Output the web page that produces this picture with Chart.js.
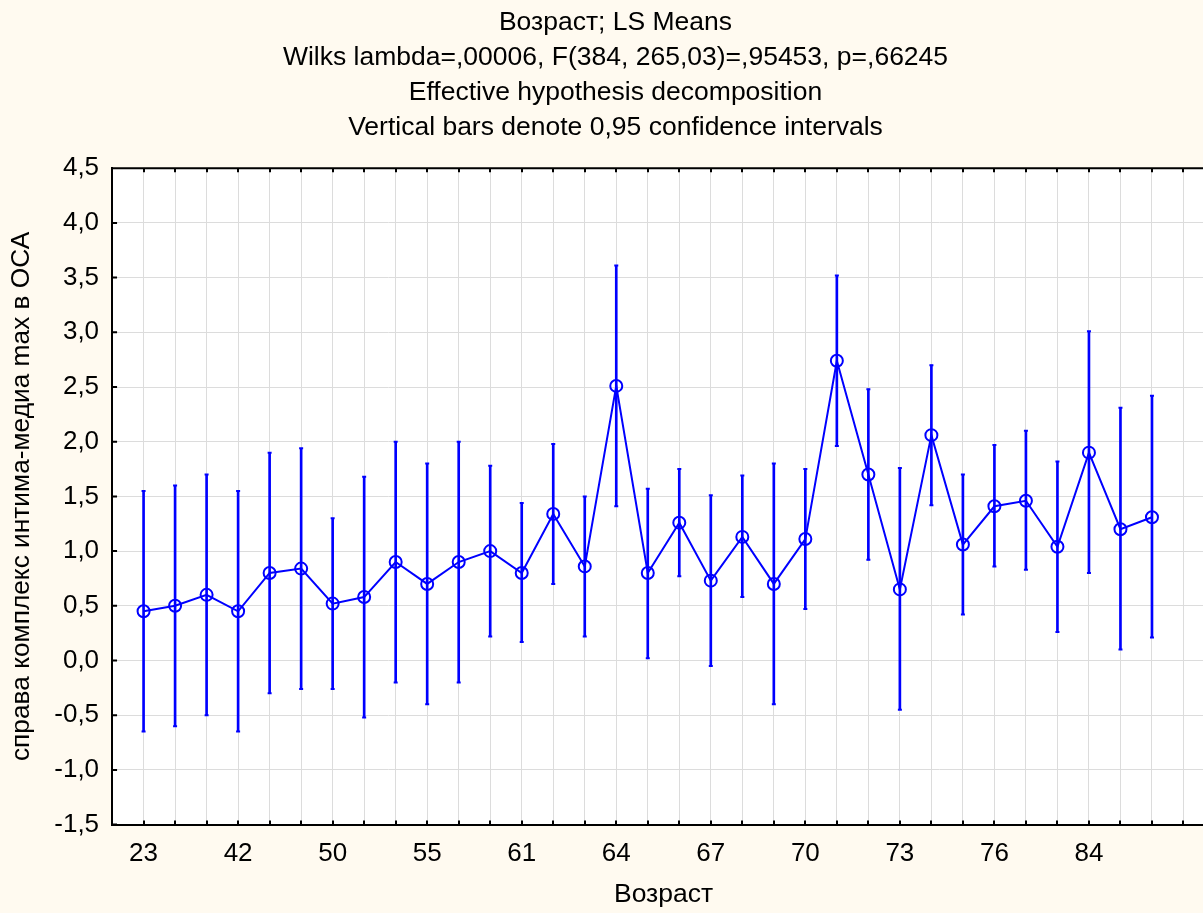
<!DOCTYPE html>
<html>
<head>
<meta charset="utf-8">
<title>Возраст; LS Means</title>
<script src="https://cdn.jsdelivr.net/npm/chart.js@4.4.1/dist/chart.umd.min.js"></script>
<style>
    html, body { margin: 0; padding: 0; overflow: hidden; background: #fffaf0; }
    #wrap { width: 1231px; height: 913px; }
</style>
</head>
<body>
<div id="wrap"><canvas id="chart" width="1231" height="913"></canvas></div>
<script>
// Age groups (x categories) - only every third one is labelled on the axis
const ages = [23, 35, 39, 42, 45, 47, 50, 52, 53, 55, 57, 59, 61, 62, 63, 64, 65,
    66, 67, 68, 69, 70, 71, 72, 73, 74, 75, 76, 78, 80, 84, 85, 87];

// LS means
const means = [0.45, 0.50, 0.60, 0.45, 0.80, 0.84, 0.52, 0.58, 0.90, 0.70, 0.90,
    1.00, 0.80, 1.34, 0.86, 2.51, 0.80, 1.26, 0.73, 1.13, 0.70, 1.11,
    2.74, 1.70, 0.65, 2.06, 1.06, 1.41, 1.46, 1.04, 1.90, 1.20, 1.31];

// 0,95 confidence interval bounds
const lower = [-0.65, -0.60, -0.50, -0.65, -0.30, -0.26, -0.26, -0.52, -0.20, -0.40, -0.20,
    0.22, 0.17, 0.70, 0.22, 1.41, 0.02, 0.77, -0.05, 0.58, -0.40, 0.47,
    1.96, 0.92, -0.45, 1.42, 0.42, 0.86, 0.83, 0.26, 0.80, 0.10, 0.21];
const upper = [1.55, 1.60, 1.70, 1.55, 1.90, 1.94, 1.30, 1.68, 2.00, 1.80, 2.00,
    1.78, 1.44, 1.98, 1.50, 3.61, 1.57, 1.75, 1.51, 1.69, 1.80, 1.75,
    3.52, 2.48, 1.76, 2.70, 1.70, 1.97, 2.10, 1.82, 3.01, 2.31, 2.42];

const titleLines = [
    'Возраст; LS Means',
    'Wilks lambda=,00006, F(384, 265,03)=,95453, p=,66245',
    'Effective hypothesis decomposition',
    'Vertical bars denote 0,95 confidence intervals'
];

const blue = '#0000ff';

Chart.defaults.font.family = '"Liberation Sans", Arial, sans-serif';
Chart.defaults.font.size = 26;
Chart.defaults.color = '#000';

// background, white plot area, top frame line and inward tick marks
const frame = {
    id: 'frame',
    beforeDraw(chart) {
        const { ctx, chartArea: a } = chart;
        ctx.save();
        ctx.fillStyle = '#fffaf0';
        ctx.fillRect(0, 0, chart.width, chart.height);
        ctx.fillStyle = '#ffffff';
        ctx.fillRect(a.left, a.top, a.right - a.left, a.bottom - a.top);
        ctx.restore();
    },
    afterDraw(chart) {
        const { ctx, chartArea: a, scales: { x, y } } = chart;
        ctx.save();
        ctx.strokeStyle = '#000';
        ctx.lineWidth = 2;
        ctx.beginPath();
        ctx.moveTo(a.left - 1, a.top);
        ctx.lineTo(a.right, a.top);
        x.ticks.forEach(t => {
            const px = Math.round(x.getPixelForValue(t.value));
            ctx.moveTo(px, a.bottom);
            ctx.lineTo(px, a.bottom - 4);
            ctx.moveTo(px, a.top);
            ctx.lineTo(px, a.top + 4);
        });
        y.ticks.forEach(t => {
            const py = y.getPixelForValue(t.value);
            ctx.moveTo(a.left, py);
            ctx.lineTo(a.left + 5, py);
        });
        ctx.stroke();
        ctx.restore();
    }
};

const ctx = document.getElementById('chart').getContext('2d');
const chart = new Chart(ctx, {
    type: 'line',
    data: {
        datasets: [
            {
                label: 'LS Means',
                data: means.map((v, i) => ({ x: i, y: v })),
                borderColor: blue,
                borderWidth: 2,
                tension: 0,
                pointStyle: 'circle',
                pointRadius: 6,
                pointBorderWidth: 2,
                pointBorderColor: blue,
                pointBackgroundColor: 'rgba(0,0,0,0)'
            },
            {
                label: 'upper cap',
                data: upper.map((v, i) => ({ x: i, y: v })),
                showLine: false,
                pointStyle: 'line',
                pointRadius: 2,
                pointBorderWidth: 2,
                pointBorderColor: blue
            },
            {
                label: 'lower cap',
                data: lower.map((v, i) => ({ x: i, y: v })),
                showLine: false,
                pointStyle: 'line',
                pointRadius: 2,
                pointBorderWidth: 2,
                pointBorderColor: blue
            },
            {
                type: 'bar',
                label: 'CI',
                data: lower.map((v, i) => ({ x: i, y: [v, upper[i]] })),
                backgroundColor: blue,
                borderWidth: 0,
                barThickness: 2,
                grouped: false
            }
        ]
    },
    options: {
        responsive: false,
        animation: false,
        layout: { padding: 0 },
        plugins: {
            legend: { display: false },
            tooltip: { enabled: false },
            title: {
                display: true,
                text: titleLines,
                color: '#000',
                font: { size: 26.5, weight: 'normal', lineHeight: 1.32 },
                padding: { top: 5.5, bottom: 22.8 }
            }
        },
        scales: {
            x: {
                type: 'linear',
                min: -1,
                max: 34,
                offset: false,
                grid: { color: '#dcdcdc', lineWidth: 1, drawTicks: false, offset: false },
                border: { color: '#000', width: 2 },
                ticks: {
                    stepSize: 1,
                    maxTicksLimit: 100,
                    autoSkip: false,
                    maxRotation: 0,
                    minRotation: 0,
                    padding: 14,
                    callback: v => (Number.isInteger(v) && v >= 0 && v % 3 === 0 && v < ages.length) ? String(ages[v]) : ''
                },
                title: {
                    display: true,
                    text: 'Возраст',
                    color: '#000',
                    font: { size: 26.5 },
                    padding: { top: -4.6, bottom: 2 }
                }
            },
            y: {
                type: 'linear',
                min: -1.5,
                max: 4.5,
                grid: { color: '#dcdcdc', lineWidth: 1, drawTicks: false },
                border: { color: '#000', width: 2 },
                ticks: {
                    stepSize: 0.5,
                    maxTicksLimit: 20,
                    padding: 13,
                    callback: v => v.toFixed(1).replace('.', ',')
                },
                title: {
                    display: true,
                    text: 'справа комплекс интима-медиа max в ОСА',
                    color: '#000',
                    font: { size: 26.3 },
                    padding: { top: 6, bottom: 3.7 }
                }
            },
            // empty strip on the right, the original plot frame runs past the cropped edge
            pad: {
                type: 'linear',
                position: 'right',
                grid: { display: false, drawOnChartArea: false },
                border: { display: false },
                ticks: { display: false },
                afterFit: axis => { axis.width = 16; }
            }
        }
    },
    plugins: [frame]
});
</script>
</body>
</html>
